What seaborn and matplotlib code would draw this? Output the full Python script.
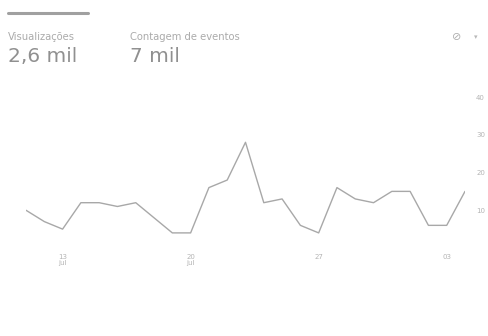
import numpy as np
import pandas as pd
import matplotlib
matplotlib.use("Agg")
import matplotlib.pyplot as plt
import seaborn as sns

# daily views
days = list(range(25))
views = [10, 7, 5, 12, 12, 11, 12, 8, 4, 4, 16, 18, 28, 12, 13, 6, 4, 16, 13, 12, 15, 15, 6, 6, 15]
tick_pos = [2, 9, 16, 23]
tick_labels = ["13\njul", "20\njul", "27", "03"]
y_ticks = [10, 20, 30, 40]

metric_names = ["Visualizações", "Contagem de eventos"]
metric_values = ["2,6 mil", "7 mil"]

sns.set_theme(style="white")
plt.rcParams["font.family"] = ["DejaVu Sans"]

df = pd.DataFrame({"day": days, "views": views})

fig = plt.figure(figsize=(4.89, 3.36), dpi=100)
fig.patch.set_facecolor("white")
ax = fig.add_axes([26 / 489, 1 - 248 / 336, (465 - 26) / 489, (248 - 97) / 336])
sns.lineplot(data=df, x="day", y="views", ax=ax, color="#a8a8a8", linewidth=1.0)

ax.set_xlim(0, 24)
ax.set_ylim(0, 40)
ax.set_xlabel("")
ax.set_ylabel("")
ax.set_xticks(tick_pos)
ax.set_xticklabels(tick_labels, fontsize=5, color="#b4b4b4", linespacing=1.1)
ax.yaxis.tick_right()
ax.set_yticks(y_ticks)
ax.set_yticklabels([str(t) for t in y_ticks], fontsize=5, color="#b4b4b4")
ax.tick_params(axis="both", length=0, pad=4)
ax.tick_params(axis="y", pad=8)
for s in ax.spines.values():
    s.set_visible(False)
ax.set_facecolor("white")

# header: tab underline, metric cards
fig.add_artist(plt.Line2D([8 / 489, 88 / 489], [1 - 13 / 336] * 2, color="#a0a0a0", lw=2.2))
for i, (name, val) in enumerate(zip(metric_names, metric_values)):
    x0 = (8 + 122 * i) / 489
    fig.text(x0, 1 - 37 / 336, name, fontsize=7.2, color="#ababab", va="center")
    fig.text(x0, 1 - 57 / 336, val, fontsize=14.5, color="#909090", va="center")

# icons at the top right
fig.text(457 / 489, 1 - 37 / 336, "⊘", fontsize=8, color="#b0b0b0", va="center", ha="center")
fig.text(476 / 489, 1 - 37 / 336, "▾", fontsize=5, color="#b8b8b8", va="center", ha="center")

fig.savefig("out.png", dpi=100, facecolor="white")
